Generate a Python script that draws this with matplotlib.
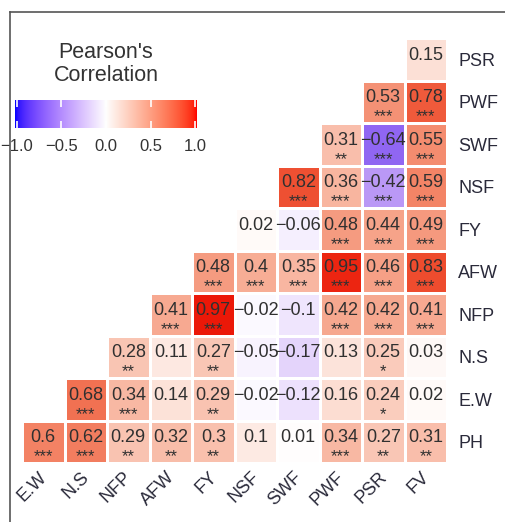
import numpy as np
import matplotlib
matplotlib.use("Agg")
import matplotlib.pyplot as plt
from matplotlib.colors import ListedColormap, Normalize, to_rgb
from matplotlib.transforms import ScaledTranslation
from matplotlib.lines import Line2D

plt.rcParams['font.family'] = ['Liberation Sans', 'DejaVu Sans']

# ---------------- data ----------------
col_labels = ["E.W", "N.S", "NFP", "AFW", "FY", "NSF", "SWF", "PWF", "PSR", "FV"]
row_labels = ["PH", "E.W", "N.S", "NFP", "AFW", "FY", "NSF", "SWF", "PWF", "PSR"]  # bottom -> top

r_PH = [0.6, 0.62, 0.29, 0.32, 0.3, 0.1, 0.01, 0.34, 0.27, 0.31]
r_EW = [0.68, 0.34, 0.14, 0.29, -0.02, -0.12, 0.16, 0.24, 0.02]
r_NS = [0.28, 0.11, 0.27, -0.05, -0.17, 0.13, 0.25, 0.03]
r_NFP = [0.41, 0.97, -0.02, -0.1, 0.42, 0.42, 0.41]
r_AFW = [0.48, 0.4, 0.35, 0.95, 0.46, 0.83]
r_FY = [0.02, -0.06, 0.48, 0.44, 0.49]
r_NSF = [0.82, 0.36, -0.42, 0.59]
r_SWF = [0.31, -0.64, 0.55]
r_PWF = [0.53, 0.78]
r_PSR = [0.15]

s_PH = ["***", "***", "**", "**", "**", "", "", "***", "**", "**"]
s_EW = ["***", "***", "", "**", "", "", "", "*", ""]
s_NS = ["**", "", "**", "", "", "", "*", ""]
s_NFP = ["***", "***", "", "", "***", "***", "***"]
s_AFW = ["***", "***", "***", "***", "***", "***"]
s_FY = ["", "", "***", "***", "***"]
s_NSF = ["***", "***", "***", "***"]
s_SWF = ["**", "***", "***"]
s_PWF = ["***", "***"]
s_PSR = [""]

rows_vals = [r_PH, r_EW, r_NS, r_NFP, r_AFW, r_FY, r_NSF, r_SWF, r_PWF, r_PSR]
rows_stars = [s_PH, s_EW, s_NS, s_NFP, s_AFW, s_FY, s_NSF, s_SWF, s_PWF, s_PSR]

cbar_ticks = [-1.0, -0.5, 0.0, 0.5, 1.0]
cbar_ticklabels = ["\u22121.0", "\u22120.5", "0.0", "0.5", "1.0"]

# ---------------- colormap (Lab interpolation, like ggplot gradient2) ----------------
M = np.array([[0.4124, 0.3576, 0.1805], [0.2126, 0.7152, 0.0722], [0.0193, 0.1192, 0.9505]])
WP = np.array([0.95047, 1.0, 1.08883])


def srgb_to_lab(c):
    c = np.asarray(c, float)
    lin = np.where(c <= 0.04045, c / 12.92, ((c + 0.055) / 1.055) ** 2.4)
    t = (M @ lin) / WP
    d = 6 / 29
    f = np.where(t > d ** 3, np.cbrt(t), t / (3 * d * d) + 4 / 29)
    return np.array([116 * f[1] - 16, 500 * (f[0] - f[1]), 200 * (f[1] - f[2])])


def lab_to_srgb(lab):
    L, a, b = lab
    fy = (L + 16) / 116
    f = np.array([fy + a / 500, fy, fy - b / 200])
    d = 6 / 29
    t = np.where(f > d, f ** 3, 3 * d * d * (f - 4 / 29))
    lin = np.clip(np.linalg.inv(M) @ (t * WP), 0, 1)
    return np.where(lin <= 0.0031308, 12.92 * lin, 1.055 * lin ** (1 / 2.4) - 0.055)


lab_w = srgb_to_lab(to_rgb("white"))
lab_r = srgb_to_lab(to_rgb("red"))
lab_b = srgb_to_lab(to_rgb("blue"))


def build_cmap(mute):
    cols = []
    for v in np.linspace(-1, 1, 257):
        if v < 0:
            c = lab_to_srgb(lab_w + (-v) * (lab_b - lab_w))
        else:
            c = lab_to_srgb(lab_w + v * (lab_r - lab_w))
        cols.append(np.clip(c * (1 - mute * abs(v)), 0, 1))
    return ListedColormap(np.array(cols))


cmap_cells = build_cmap(0.08)
cmap_bar = build_cmap(0.0)
norm = Normalize(-1, 1)

# ---------------- figure ----------------
W, H = 505, 522
fig = plt.figure(figsize=(W / 100, H / 100), dpi=100)

# main heatmap axes
ax = fig.add_axes([22 / W, (H - 463) / H, 425 / W, 425 / H])
n = len(col_labels)
Z = np.full((n, n), np.nan)
for i, vals in enumerate(rows_vals):
    for k, v in enumerate(vals):
        Z[i, i + k] = v
Zm = np.ma.masked_invalid(Z)
ax.pcolormesh(np.arange(n + 1) - 0.5, np.arange(n + 1) - 0.5, Zm, cmap=cmap_cells, norm=norm,
              edgecolors="white", linewidth=1.8)

txt_color = "#303030"
for i, (vals, stars) in enumerate(zip(rows_vals, rows_stars)):
    for k, (v, s) in enumerate(zip(vals, stars)):
        j = i + k
        lab = f"{v:g}".replace("-", "\u2212")
        ax.text(j, i - 0.01, lab, ha="center", va="baseline", fontsize=13, color=txt_color)
        if s:
            ax.text(j, i - 0.46, s, ha="center", va="baseline", fontsize=12, color=txt_color)

ax.set_xlim(-0.5, n - 0.5)
ax.set_ylim(-0.5, n - 0.5)
for sp in ax.spines.values():
    sp.set_visible(False)
ax.set_xticks(np.arange(n))
ax.set_xticklabels(col_labels, rotation=45, ha="right", va="top", fontsize=13, color="#2a2a3a")
ax.set_yticks(np.arange(n))
ax.set_yticklabels(row_labels, fontsize=13, color="#2a2a3a")
ax.yaxis.tick_right()
ax.tick_params(axis="both", length=0)
ax.tick_params(axis="y", pad=8)
ax.tick_params(axis="x", pad=4)
off = ScaledTranslation(7 / 100, 0, fig.dpi_scale_trans)
for lbl in ax.get_xticklabels():
    lbl.set_transform(lbl.get_transform() + off)

# ---------------- legend ----------------
fig.text(106 / W, 1 - 64 / H, "Pearson's\nCorrelation", ha="center", va="center",
         fontsize=15.5, color="#333333", linespacing=1.15)
cax = fig.add_axes([15 / W, (H - 128) / H, 182 / W, 28 / H])
grad = np.linspace(-1, 1, 256)[None, :]
cax.imshow(grad, aspect="auto", cmap=cmap_bar, norm=norm, extent=[-1.02, 1.02, 0, 1])
cax.set_xlim(-1.02, 1.02)
cax.set_ylim(0, 1)
for sp in cax.spines.values():
    sp.set_visible(False)
cax.set_yticks([])
cax.set_xticks(cbar_ticks)
cax.set_xticklabels(cbar_ticklabels, fontsize=12, color="#333333")
cax.tick_params(axis="x", direction="in", color="white", length=5, width=1.2,
                top=True, bottom=True, pad=8)

# ---------------- frame ----------------
fig.add_artist(Line2D([10 / W, 1.0], [1 - 12 / H, 1 - 12 / H], color="#555555", lw=1.2))
fig.add_artist(Line2D([10 / W, 10 / W], [0.0, 1 - 12 / H], color="#555555", lw=1.2))

fig.savefig("out.png", dpi=100, facecolor="white")
